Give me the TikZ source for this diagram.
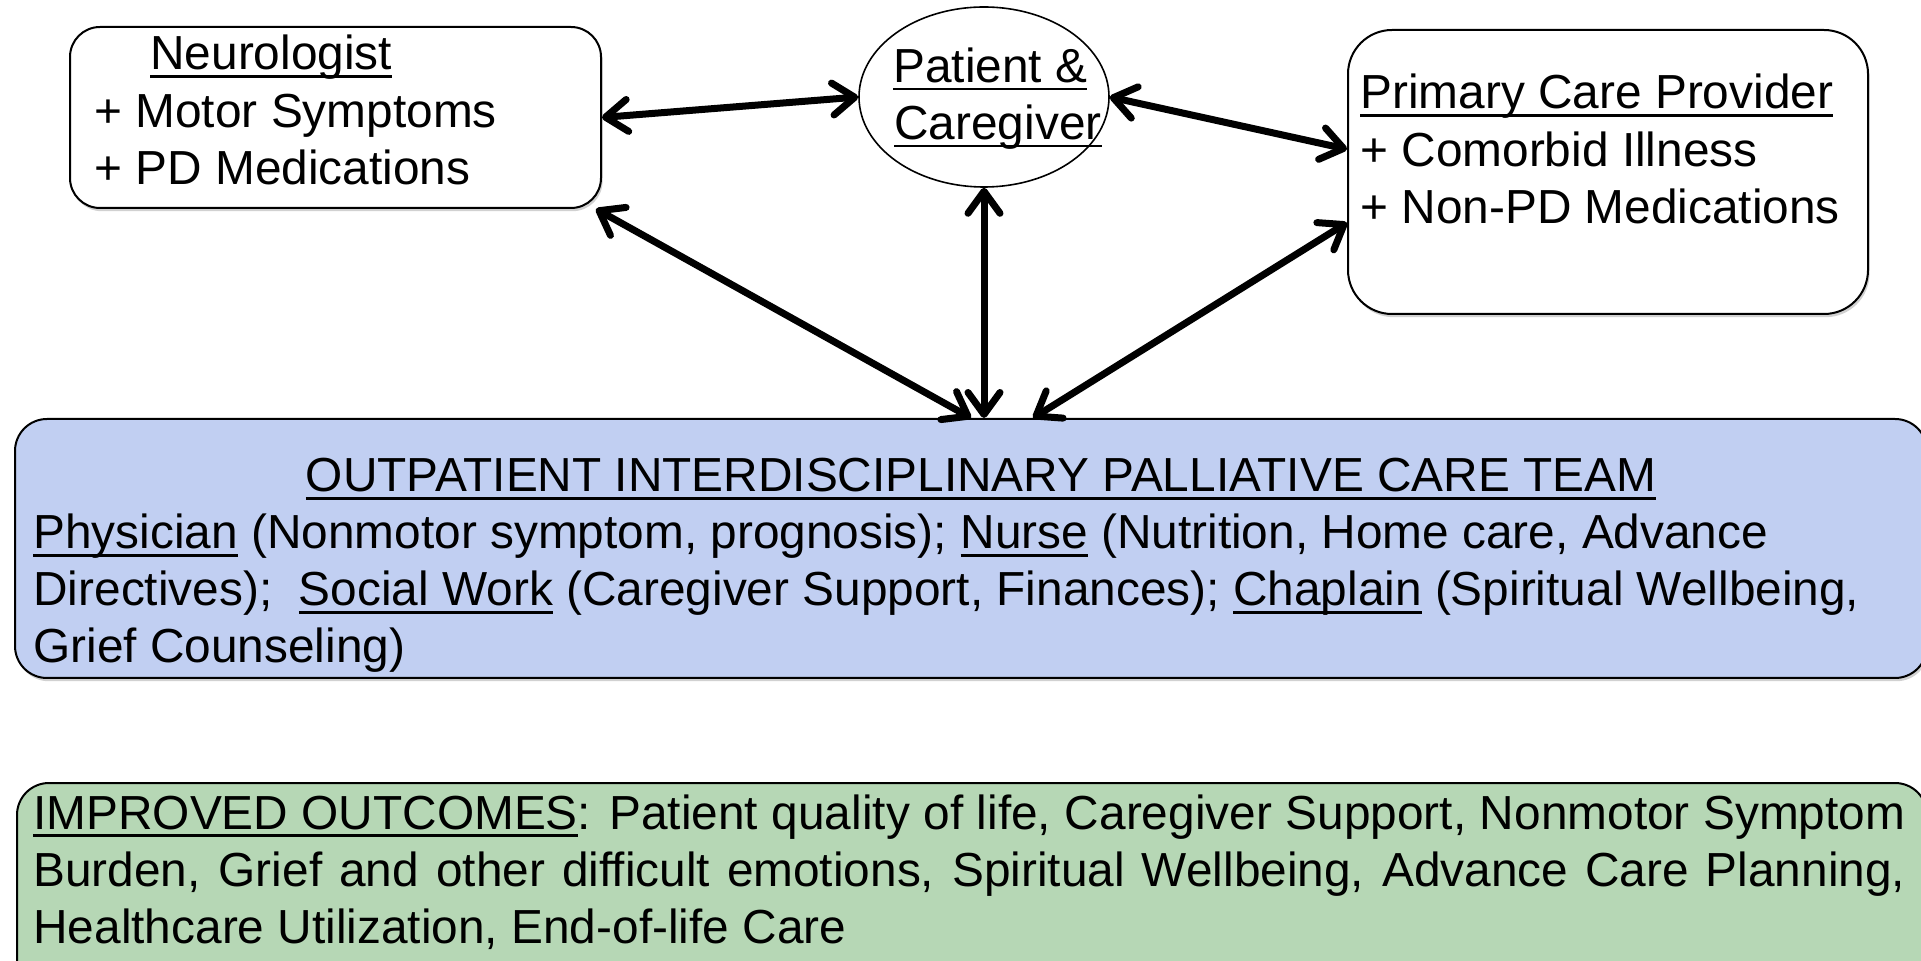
\documentclass[tikz,border=0pt]{standalone}
\usepackage{fontspec}
\setmainfont{Liberation Sans}
\usetikzlibrary{arrows.meta,shapes.geometric,shadows}
\definecolor{teamblue}{RGB}{193,207,242}
\definecolor{outgreen}{RGB}{182,215,181}
\newcommand\myul[1]{\setbox0\hbox{#1}\rlap{\rule[-4pt]{\wd0}{1.3pt}}\box0\relax}
\begin{document}
\begin{tikzpicture}[x=0.5pt,y=-0.5pt,
  font=\fontsize{23.9}{28.5}\selectfont,
  box/.style={draw=black,line width=1pt,rounded corners=15pt,inner sep=0pt,anchor=north west,
    drop shadow={shadow xshift=0.8pt,shadow yshift=-1.6pt,opacity=0.18,fill=black}},
  txt/.style={anchor=base west,inner sep=0pt},
  link/.style={line width=3.5pt,line cap=round,
    arrows={Straight Barb[length=11pt,width=16pt,round]-Straight Barb[length=11pt,width=16pt,round]}}]
\useasboundingbox (0,0) rectangle (1921,961);
\clip (0,0) rectangle (1921,961);
\fill[white] (0,0) rectangle (1921,961);
% boxes
\node[box,fill=white,minimum width=265.5pt,minimum height=90.5pt] (neuro) at (69,26) {};
\node[box,fill=white,rounded corners=22pt,minimum width=260pt,minimum height=142pt] (pcp) at (1347,29) {};
\node[box,fill=teamblue,rounded corners=16pt,minimum width=956pt,minimum height=129.5pt] (team) at (14,418) {};
\node[box,fill=outgreen,rounded corners=16pt,minimum width=955pt,minimum height=130pt] (outc) at (16,782) {};
\node[ellipse,draw=black,line width=0.8pt,fill=white,minimum width=125pt,minimum height=90pt,inner sep=0pt] (pat) at (984,97) {};
% connectors
\draw[link] (neuro.east) -- (pat.west);
\draw[link] (pat.east) -- (pcp.175.6);
\draw[link] ([xshift=-3pt]neuro.south east) -- (team.north);
\draw[link] (pat.south) -- (pat.south |- team.north);
\draw[link] (pcp.191.5) -- ([xshift=31pt]team.north);
% texts
\node[txt] (neuT) at (150,70) {\myul{Neurologist}};
\node[txt] (neu1) at (94,127.5) {+ Motor Symptoms};
\node[txt] (neu2) at (94,185) {+ PD Medications};
\node[txt] (patT1) at (893,82.5) {\myul{Patient \&}};
\node[txt] (patT2) at (894,139.5) {\myul{Caregiver}};
\node[txt] (pcpT) at (1360,109) {\myul{Primary Care Provider}};
\node[txt] (pcp1) at (1360,167) {+ Comorbid Illness};
\node[txt] (pcp2) at (1360,224) {+ Non-PD Medications};
\node[anchor=base,inner sep=0pt] (teamT) at (981,492) {\myul{OUTPATIENT INTERDISCIPLINARY PALLIATIVE CARE TEAM}};
\node[txt] (team1) at (33,549) {\myul{Physician} (Nonmotor symptom, prognosis); \myul{Nurse} (Nutrition, Home care, Advance};
\node[txt] (team2) at (33,606) {Directives);~ \myul{Social Work} (Caregiver Support, Finances); \myul{Chaplain} (Spiritual Wellbeing,};
\node[txt] (team3) at (33,662) {Grief Counseling)};
\node[txt] (out1) at (33,829) {\makebox[936pt][s]{\myul{IMPROVED OUTCOMES}: Patient quality of life, Caregiver Support, Nonmotor Symptom}};
\node[txt] (out2) at (33,886) {\makebox[936pt][s]{Burden, Grief and other difficult emotions, Spiritual Wellbeing, Advance Care Planning,}};
\node[txt] (out3) at (33,943) {Healthcare Utilization, End-of-life Care};
\end{tikzpicture}
\end{document}
